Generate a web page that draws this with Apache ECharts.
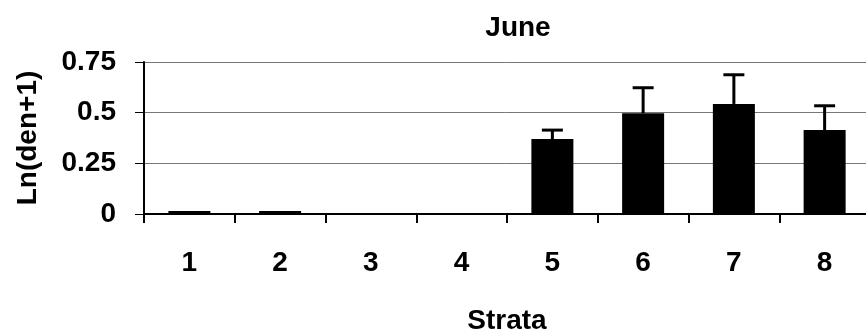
<!DOCTYPE html>
<html>
<head>
<meta charset="utf-8">
<script src="https://cdn.jsdelivr.net/npm/echarts@6/dist/echarts.min.js"></script>
<style>
html,body{margin:0;padding:0;background:#fff;}
#chart{width:866px;height:335px;}
</style>
</head>
<body>
<div id="chart"></div>
<script>
var categories = ['1', '2', '3', '4', '5', '6', '7', '8'];
var means = [0.015, 0.015, 0.004, 0.004, 0.370, 0.497, 0.543, 0.414];
var upperErr = [0, 0, 0, 0, 0.044, 0.126, 0.144, 0.120];
var yTicks = [0, 0.25, 0.5, 0.75];

var FONT = '"Liberation Sans", Arial, sans-serif';
var FS = 28;
var chart = echarts.init(document.getElementById('chart'), null, {renderer: 'canvas'});

var errData = categories.map(function (c, i) { return [i, means[i], means[i] + upperErr[i]]; });

chart.setOption({
  animation: false,
  backgroundColor: '#fff',
  title: {
    text: 'June',
    left: 513, top: 9, textAlign: 'center',
    textStyle: {fontFamily: FONT, fontWeight: 'bold', fontSize: FS, color: '#000'}
  },
  grid: {left: 144, top: 62, width: 726, height: 152, containLabel: false, outerBoundsMode: 'none'},
  xAxis: {
    type: 'category',
    data: categories,
    boundaryGap: true,
    name: 'Strata',
    nameLocation: 'middle',
    nameGap: 93,
    nameTextStyle: {fontFamily: FONT, fontWeight: 'bold', fontSize: FS, color: '#000'},
    axisLine: {lineStyle: {color: '#000', width: 2}},
    axisTick: {show: true, alignWithLabel: false, length: 9, lineStyle: {color: '#000', width: 2}},
    axisLabel: {fontFamily: FONT, fontWeight: 'bold', fontSize: FS, color: '#000', margin: 35},
    splitLine: {show: false}
  },
  yAxis: {
    type: 'value',
    min: yTicks[0],
    max: yTicks[yTicks.length - 1],
    interval: 0.25,
    name: 'Ln(den+1)',
    nameLocation: 'middle',
    nameGap: 102,
    nameRotate: 90,
    nameTextStyle: {fontFamily: FONT, fontWeight: 'bold', fontSize: FS, color: '#000'},
    axisLine: {show: true, lineStyle: {color: '#000', width: 2}},
    axisTick: {show: true, length: 9, lineStyle: {color: '#000', width: 1}},
    axisLabel: {fontFamily: FONT, fontWeight: 'bold', fontSize: FS, color: '#000', margin: 28},
    splitLine: {show: true, lineStyle: {color: '#777', width: 1}}
  },
  series: [
    {
      type: 'bar',
      data: means,
      barWidth: 42,
      itemStyle: {color: '#000'},
      z: 2
    },
    {
      type: 'custom',
      data: errData,
      z: 3,
      renderItem: function (params, api) {
        var x = api.value(0);
        var lo = api.coord([x, api.value(1)]);
        var hi = api.coord([x, api.value(2)]);
        if (Math.abs(lo[1] - hi[1]) < 0.5) return {type: 'group', children: []};
        var half = 10.5;
        return {
          type: 'group',
          children: [
            {type: 'line', shape: {x1: lo[0], y1: lo[1], x2: hi[0], y2: hi[1]}, style: {stroke: '#000', lineWidth: 3}},
            {type: 'line', shape: {x1: hi[0] - half, y1: hi[1], x2: hi[0] + half, y2: hi[1]}, style: {stroke: '#000', lineWidth: 3}}
          ]
        };
      }
    }
  ]
});
</script>
</body>
</html>
